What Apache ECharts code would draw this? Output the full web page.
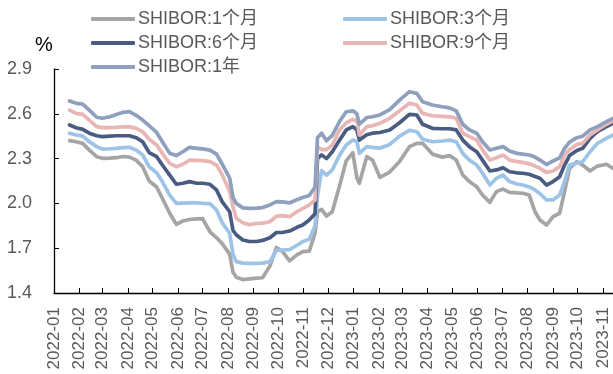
<!DOCTYPE html>
<html>
<head>
<meta charset="utf-8">
<script src="https://cdn.jsdelivr.net/npm/echarts@6/dist/echarts.min.js"></script>
<style>
  html, body { margin: 0; padding: 0; background: #fff; }
  #chart { width: 613px; height: 374px; }
</style>
</head>
<body>
<div id="chart"></div>
<script>
// SHIBOR term rates, 2022-01 to 2023-11 (%)
const dates = ['2022-01-20','2022-01-28','2022-02-05','2022-02-13','2022-02-22','2022-03-01','2022-03-10','2022-03-18','2022-03-26','2022-04-03','2022-04-11','2022-04-19','2022-04-27','2022-05-06','2022-05-13','2022-05-22','2022-05-30','2022-06-07','2022-06-15','2022-06-24','2022-07-01','2022-07-10','2022-07-18','2022-07-25','2022-08-03','2022-08-07','2022-08-11','2022-08-19','2022-08-27','2022-09-05','2022-09-12','2022-09-21','2022-09-29','2022-10-06','2022-10-15','2022-10-24','2022-10-31','2022-11-08','2022-11-15','2022-11-18','2022-11-23','2022-11-29','2022-12-06','2022-12-15','2022-12-23','2022-12-31','2023-01-05','2023-01-08','2023-01-17','2023-01-24','2023-02-02','2023-02-14','2023-02-26','2023-03-10','2023-03-19','2023-03-26','2023-04-07','2023-04-19','2023-04-28','2023-05-06','2023-05-14','2023-05-22','2023-05-31','2023-06-07','2023-06-16','2023-06-24','2023-07-02','2023-07-10','2023-07-19','2023-07-26','2023-08-03','2023-08-10','2023-08-16','2023-08-24','2023-09-01','2023-09-09','2023-09-15','2023-09-21','2023-09-30','2023-10-07','2023-10-16','2023-10-25','2023-11-05','2023-11-13'];

const shibor1m = [2.42,2.413,2.402,2.357,2.313,2.302,2.303,2.306,2.314,2.31,2.29,2.246,2.15,2.11,2.034,1.934,1.86,1.882,1.892,1.896,1.898,1.81,1.77,1.73,1.66,1.54,1.505,1.49,1.495,1.5,1.502,1.58,1.705,1.68,1.615,1.655,1.677,1.68,1.8,1.944,1.96,1.915,1.944,2.12,2.285,2.34,2.17,2.135,2.313,2.29,2.175,2.21,2.28,2.38,2.402,2.402,2.33,2.31,2.32,2.29,2.19,2.146,2.112,2.056,2.007,2.079,2.096,2.074,2.07,2.068,2.056,1.944,1.889,1.855,1.911,1.934,2.079,2.235,2.279,2.257,2.217,2.25,2.262,2.235];

const shibor3m = [2.47,2.458,2.451,2.413,2.38,2.364,2.366,2.369,2.373,2.376,2.357,2.324,2.245,2.205,2.146,2.056,2.0,2.002,2.004,2.004,2.0,1.998,1.956,1.87,1.8,1.66,1.61,1.6,1.599,1.599,1.6,1.61,1.685,1.688,1.69,1.72,1.744,1.76,1.85,2.05,2.22,2.19,2.224,2.324,2.391,2.424,2.413,2.335,2.38,2.375,2.37,2.395,2.45,2.49,2.48,2.43,2.413,2.418,2.424,2.413,2.335,2.29,2.257,2.202,2.123,2.168,2.19,2.146,2.13,2.123,2.11,2.09,2.065,2.023,2.023,2.056,2.146,2.257,2.27,2.279,2.346,2.402,2.436,2.458];

const shibor6m = [2.525,2.507,2.496,2.47,2.453,2.447,2.45,2.453,2.453,2.453,2.44,2.413,2.34,2.313,2.257,2.19,2.128,2.135,2.146,2.135,2.135,2.128,2.09,2.01,1.944,1.82,1.79,1.755,1.745,1.745,1.752,1.77,1.805,1.805,1.815,1.84,1.855,1.889,1.93,2.3,2.325,2.3,2.346,2.424,2.492,2.514,2.492,2.424,2.46,2.47,2.475,2.492,2.54,2.596,2.592,2.53,2.503,2.5,2.5,2.492,2.424,2.38,2.346,2.29,2.217,2.224,2.239,2.212,2.205,2.202,2.195,2.18,2.168,2.123,2.146,2.179,2.257,2.32,2.355,2.369,2.436,2.48,2.514,2.536];

const shibor9m = [2.625,2.603,2.596,2.558,2.514,2.507,2.508,2.509,2.512,2.514,2.503,2.48,2.43,2.391,2.335,2.268,2.246,2.262,2.29,2.288,2.286,2.28,2.257,2.19,2.08,1.98,1.9,1.87,1.858,1.866,1.868,1.877,1.915,1.918,1.911,1.945,1.965,1.99,2.023,2.38,2.36,2.36,2.391,2.492,2.54,2.563,2.55,2.458,2.514,2.52,2.536,2.57,2.62,2.67,2.659,2.603,2.587,2.583,2.58,2.57,2.47,2.447,2.424,2.358,2.29,2.306,2.324,2.29,2.28,2.275,2.265,2.25,2.235,2.208,2.217,2.246,2.324,2.36,2.395,2.402,2.458,2.492,2.53,2.552];

const shibor1y = [2.686,2.67,2.665,2.625,2.577,2.57,2.58,2.596,2.61,2.614,2.59,2.558,2.52,2.475,2.413,2.335,2.32,2.346,2.375,2.369,2.365,2.357,2.33,2.262,2.17,2.04,2.0,1.97,1.967,1.968,1.972,1.99,2.012,2.01,2.003,2.025,2.04,2.053,2.11,2.44,2.47,2.42,2.455,2.55,2.614,2.62,2.6,2.53,2.575,2.58,2.592,2.628,2.692,2.748,2.737,2.681,2.659,2.647,2.64,2.62,2.53,2.492,2.47,2.413,2.358,2.369,2.38,2.351,2.335,2.33,2.324,2.31,2.29,2.26,2.284,2.305,2.369,2.41,2.44,2.45,2.492,2.514,2.547,2.57];

const seriesNames = ['SHIBOR:1个月', 'SHIBOR:3个月', 'SHIBOR:6个月', 'SHIBOR:9个月', 'SHIBOR:1年'];
const seriesValues = [shibor1m, shibor3m, shibor6m, shibor9m, shibor1y];
const seriesColors = ['#A5A5A5', '#9DC3E6', '#4A5C82', '#E8B6B5', '#8FA0BE'];

const yTicks = { min: 1.4, max: 2.9, step: 0.3 };
const xRange = { min: '2022-01-01', max: '2023-11-13' };

const FONT = '"Liberation Sans", Arial, "Noto Sans CJK SC", sans-serif';
const DAY = 24 * 3600 * 1000;

const chart = echarts.init(document.getElementById('chart'), null, { renderer: 'canvas' });

const legendBase = {
  orient: 'vertical',
  top: 5,
  itemWidth: 44,
  itemHeight: 4,
  itemGap: 6,
  icon: 'roundRect',
  textStyle: { fontFamily: FONT, fontSize: 18, color: '#595959', padding: [0, 0, 0, -2] },
  selectedMode: false
};

chart.setOption({
  animation: false,
  backgroundColor: '#ffffff',
  legend: [
    Object.assign({}, legendBase, { left: 86, data: [seriesNames[0], seriesNames[2], seriesNames[4]] }),
    Object.assign({}, legendBase, { left: 338, data: [seriesNames[1], seriesNames[3]] })
  ],
  graphic: [{
    type: 'text',
    left: 35,
    top: 35,
    style: { text: '%', font: '20px ' + FONT, fill: '#000000' }
  }],
  grid: { left: 54, right: 0, top: 69, bottom: 81, containLabel: false },
  xAxis: {
    type: 'time',
    min: xRange.min,
    max: xRange.max,
    minInterval: 28 * DAY,
    maxInterval: 31 * DAY,
    splitNumber: 23,
    axisLine: { lineStyle: { color: '#000000', width: 1.3 } },
    axisTick: { show: true, inside: true, length: 5, lineStyle: { color: '#000000', width: 1 } },
    splitLine: { show: false },
    axisLabel: {
      rotate: 90,
      margin: 14,
      interval: 0,
      hideOverlap: false,
      showMinLabel: true,
      showMaxLabel: false,
      formatter: '{yyyy}-{MM}',
      fontFamily: FONT,
      fontSize: 17,
      color: '#595959'
    }
  },
  yAxis: {
    type: 'value',
    min: yTicks.min,
    max: yTicks.max,
    interval: yTicks.step,
    axisLine: { show: true, lineStyle: { color: '#000000', width: 1.3 } },
    axisTick: { show: true, inside: true, length: 5, lineStyle: { color: '#000000', width: 1 } },
    splitLine: { show: false },
    axisLabel: {
      margin: 22,
      fontFamily: FONT,
      fontSize: 18,
      color: '#595959',
      formatter: v => v.toFixed(1)
    }
  },
  series: seriesNames.map((name, i) => ({
    name: name,
    type: 'line',
    showSymbol: false,
    symbol: 'none',
    smooth: false,
    color: seriesColors[i],
    lineStyle: { width: 3.7, color: seriesColors[i], cap: 'round', join: 'round' },
    data: dates.map((d, k) => [d, seriesValues[i][k]])
  }))
});
</script>
</body>
</html>
